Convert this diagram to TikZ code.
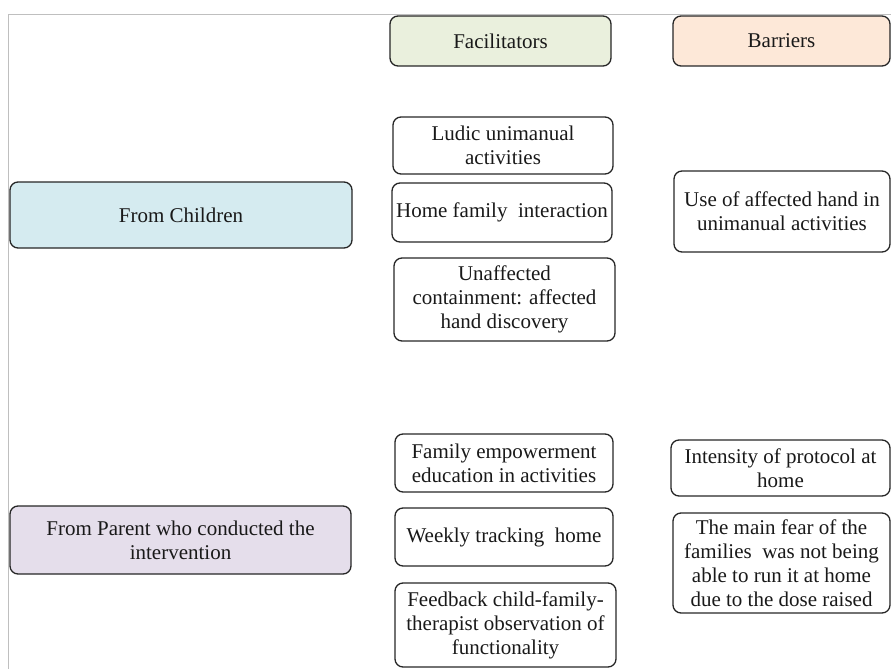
\documentclass[tikz,border=0pt]{standalone}
\usepackage{fontspec}
\setmainfont{Liberation Serif}
\newfontfamily\boxfont{Liberation Serif}
\definecolor{facfill}{HTML}{EAF0DD}
\definecolor{barfill}{HTML}{FDE8D8}
\definecolor{chfill}{HTML}{D5EBF0}
\definecolor{parfill}{HTML}{E5DEEB}
\definecolor{frame}{HTML}{BFBFBF}
\definecolor{edge}{HTML}{262626}
\begin{document}
\begin{tikzpicture}[x=1pt,y=-1pt,
  box/.style={draw=edge, line width=1.3pt, rounded corners=8pt, inner sep=0pt,
    align=center, font=\boxfont\fontsize{21}{24}\selectfont, text=black!90}]
\useasboundingbox (0,0) rectangle (891,669);
\draw[frame, line width=1.5pt] (891,14.5) -- (8.5,14.5) -- (8.5,669);
% header boxes
\node[box, fill=facfill, minimum width=221pt, minimum height=50pt] (fac) at (500.5,41) {Facilitators};
\node[box, fill=barfill, minimum width=217pt, minimum height=50pt] (bar) at (781.5,41) {Barriers};
% left boxes
\node[box, fill=chfill, minimum width=342pt, minimum height=66pt] (ch) at (181,215) {From Children};
\node[box, fill=parfill, minimum width=341pt, minimum height=68pt] (par) at (180.5,540) {From Parent who conducted the\\intervention};
% facilitators from children
\node[box, minimum width=220pt, minimum height=57pt] (ludic) at (503,145.5) {Ludic unimanual\\activities};
\node[box, minimum width=220pt, minimum height=59pt] (home) at (502,212.5) {Home family\ \ interaction};
\node[box, minimum width=221pt, minimum height=83pt] (unaff) at (504.5,299.5) {Unaffected\\containment: affected\\hand discovery};
% barriers from children
\node[box, minimum width=216pt, minimum height=81pt] (use) at (782,211.5) {Use of affected hand in\\unimanual activities};
% facilitators from parent
\node[box, minimum width=218pt, minimum height=58pt] (emp) at (504,463) {Family empowerment\\education in activities};
\node[box, minimum width=218pt, minimum height=58pt] (week) at (504,537) {Weekly tracking\ \ home};
\node[box, minimum width=221pt, minimum height=84pt] (feed) at (505.5,625) {Feedback child-family-\\therapist observation of\\functionality};
% barriers from parent
\node[box, minimum width=219pt, minimum height=56pt] (int) at (780.5,468) {Intensity of protocol at\\home};
\node[box, minimum width=217pt, minimum height=100pt] (fear) at (781.5,563) {The main fear of the\\families\ \ was not being\\able to run it at home\\due to the dose raised};
\end{tikzpicture}
\end{document}
